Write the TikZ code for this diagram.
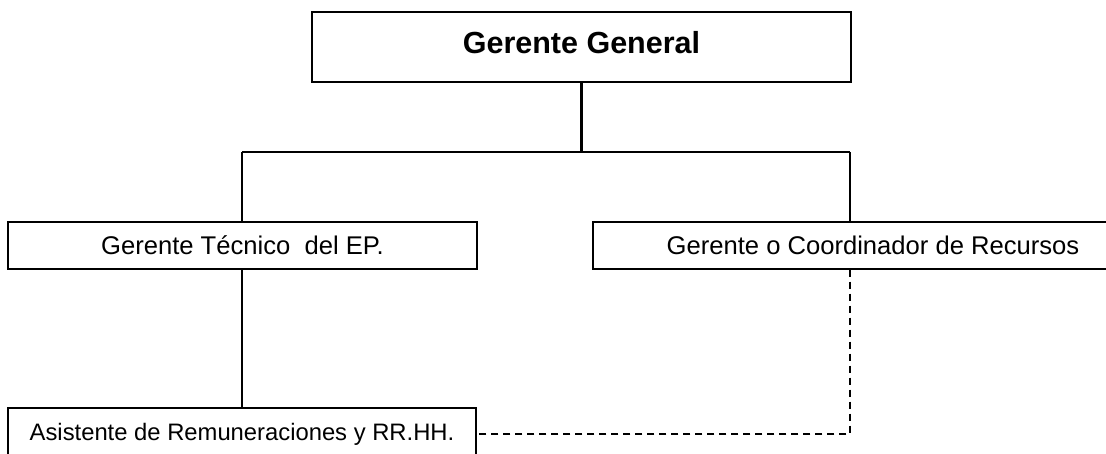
\documentclass[tikz,border=0pt]{standalone}
\usepackage{fontspec}
\setmainfont{Liberation Sans}
\usetikzlibrary{positioning}
\tikzstyle{block} = [draw, fill=white, rectangle, line width=1.3pt, inner sep=0pt]
\tikzstyle{link} = [draw, line width=2.2pt]
\tikzstyle{dotlink} = [draw, line width=1.8pt, dash pattern=on 7pt off 5pt]
\newcommand{\boxfont}[1]{\fontsize{#1}{#1}\selectfont}

\begin{document}
\begin{tikzpicture}[x=1pt, y=-1pt]
    \useasboundingbox (0,0) rectangle (1106,454);
    \coordinate (busL) at (242,152);
    \coordinate (busR) at (850,152);
    \node [block, minimum width=539pt, minimum height=70pt, text depth=9pt,
        font=\bfseries\boxfont{30.5}] (general) at (581.5,47) {Gerente General};
    \node [block, minimum width=469pt, minimum height=47pt,
        font=\boxfont{25.6}] (tecnico) at (242.5,245.5) {Gerente Técnico~ del EP.};
    \node [block, minimum width=560pt, minimum height=47pt,
        font=\boxfont{25.6}] (recursos) at (873,245.5) {Gerente o Coordinador de Recursos};
    \node [block, minimum width=468pt, minimum height=52pt,
        font=\boxfont{23.8}] (asistente) at (242,434) {Asistente de Remuneraciones y RR.HH.};
    \draw [link] (general.south) -- (general.south |- busL);
    \draw [link] (busL) -- (busR);
    \draw [link] (busL) -- (busL |- tecnico.north);
    \draw [link] (busR) -- (busR |- recursos.north);
    \draw [link] (busL |- tecnico.south) -- (busL |- asistente.north);
    \draw [dotlink] (busR |- recursos.south) |- (asistente.east);
\end{tikzpicture}
\end{document}
